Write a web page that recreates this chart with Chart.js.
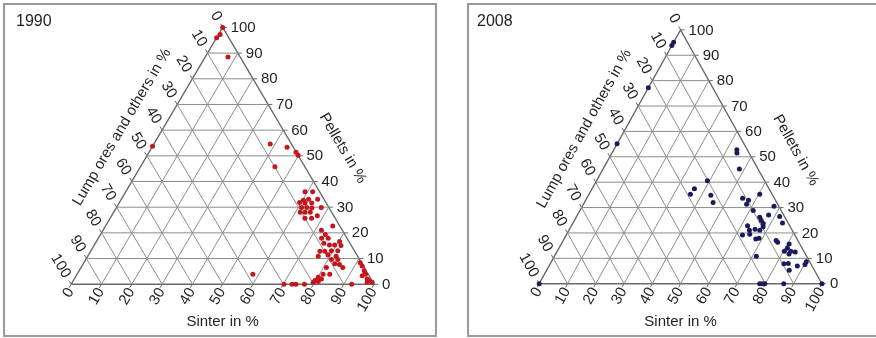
<!DOCTYPE html>
<html>
<head>
<meta charset="utf-8">
<script src="https://cdn.jsdelivr.net/npm/chart.js@4.4.1/dist/chart.umd.min.js"></script>
<style>
html,body{margin:0;padding:0;background:#fff;overflow:hidden;width:876px;height:338px;position:relative}
.frame{position:absolute;border:2px solid #9a9a9a;box-sizing:border-box}
#f1{left:3px;top:3px;width:434px;height:334px}
#f2{left:467px;top:3px;width:420px;height:334px}
canvas{position:absolute;top:0}
#c1{left:0}
#c2{left:438px}
</style>
</head>
<body>
<div class="frame" id="f1"></div>
<div class="frame" id="f2"></div>
<canvas id="c1" width="438" height="338"></canvas>
<canvas id="c2" width="438" height="338"></canvas>
<script>
// Ternary plots: Sinter / Pellets / Lump ores (lump = 100 - sinter - pellets)
const gridTicks = [0,10,20,30,40,50,60,70,80,90,100];
const years = ['1990','2008'];
const axisLump = 'Lump ores and others in %';
const axisPellets = 'Pellets in %';
const axisSinter = 'Sinter in %';

const sinter1990  = [0,0.5,0,7.5,0,38.4,44.6,48.5,49.8,44.4,
  59.2,61.7,60.3,61.8,64.8,59.5,61.4,63.6,61.1,62.8,64.6,67.6,61.6,63.2,64.9,67.9,64.3,66.5,
  75.0,72.1,74.2,73.7,75.9,80.3,75.4,77.6,79.3,81.5,75.7,77.3,79.4,81.5,76.1,79.0,82.0,81.1,83.2,83.0,84.7,81.0,86.4,81.2,83.4,80.2,81.6,79.8,81.0,
  91.2,92.5,94.1,95.2,94.4,96.7,97.6,98.9,97.3,
  58.0,70.2,72.9,74.2,77.0,79.5,92.6];
const pellets1990 = [100,97.3,96,88.5,53.7,54.6,53.3,51.4,50.2,45.7,
  36.0,36.0,32.7,33.1,33.1,31.8,31.6,31.6,29.9,29.9,29.7,29.9,28.0,28.0,28.0,26.7,25.7,25.7,
  22.7,21.0,19.4,17.9,17.9,16.6,16.0,15.3,15.3,15.1,12.8,12.8,13.0,13.0,10.9,11.5,10.9,9.6,9.6,8.0,7.7,6.5,6.5,3.9,3.9,2.7,2.0,1.4,1.1,
  8.4,7.1,5.2,3.9,3.3,2.0,1.4,0.8,0.8,
  3.9,0,0,0,0,0.8,0];

const sinter2008  = [0,0,0,0,0,43.5,44.2,48.2,39.2,36.2,35.9,43.3,45.5,
  55.1,57.6,57.7,60.4,67.8,61.3,67.6,64.9,66.1,67.4,68.0,71.8,74.1,
  62.3,62.3,63.8,64.7,65.6,67.5,67.8,68.8,75.3,76.2,
  80.6,80.8,80.3,82.6,84.3,82.5,71.4,82.6,84.1,85.8,87.8,90.1,90.2,
  78.0,78.9,79.8,86.5,100];
const pellets2008 = [95.1,93.8,77.2,55.1,0,52.8,51.5,45.2,40.6,37.4,35.2,34.8,32.0,
  33.7,32.9,31.3,35.2,30.5,28.8,27.1,26.2,24.9,23.7,22.4,26.5,23.9,
  22.8,19.2,21.1,19.5,21.5,21.1,17.6,17.9,17.0,16.3,
  15.6,14.0,12.8,12.8,12.5,11.7,10.8,7.9,8.0,5.3,7.0,8.7,7.6,
  0,0,0,0,0];

const GRID = '#8c8c8c', EDGE = '#6a6a6a', TEXT = '#231f20';
const FONT = '"Liberation Sans", Arial, sans-serif';

function tern(s,p){ return {x: s + p/2, y: p}; }

function buildDatasets(S, P, color){
    const ds = [];
    const seg = (pts, w, c) => ds.push({data: pts, showLine: true, borderColor: c, borderWidth: w, pointRadius: 0, order: 2, clip: false});
    const t = 1.4;
    gridTicks.forEach(v=>{
        if(v>0 && v<100){
            seg([tern(0,v), tern(100-v,v)], 1, GRID);           // pellets
            seg([tern(v,0), tern(v,100-v)], 1, GRID);           // sinter
            seg([tern(0,100-v), tern(100-v,0)], 1, GRID);       // lump
        }
        const r = tern(100-v,v);
        seg([r, {x:r.x+t, y:v}], 1, EDGE);
        const b = tern(v,0);
        seg([b, {x:b.x-t/2, y:-t}], 1, EDGE);
        const l = tern(0,100-v);
        seg([l, {x:l.x-t/2, y:l.y+t}], 1, EDGE);
    });
    seg([tern(0,0), tern(100,0), tern(0,100), tern(0,0)], 1.4, EDGE);
    ds.push({data: S.map((s,i)=>tern(s,P[i])), pointRadius: 2.5, pointBackgroundColor: color, pointBorderWidth: 0, showLine: false, order: 0, clip: false});
    return ds;
}

const ternLabels = {
    id: 'ternLabels',
    afterDatasetsDraw(chart, args, o){
        const {ctx, scales:{x,y}} = chart;
        const px = (s,p)=>{ const q=tern(s,p); return [x.getPixelForValue(q.x), y.getPixelForValue(q.y)]; };
        const [blx,bly] = px(0,0), [brx] = px(100,0), [apx,apy] = px(0,100);
        const ang = Math.atan2(bly-apy, apx-blx);
        ctx.save();
        ctx.fillStyle = TEXT;
        ctx.font = '15px ' + FONT;
        ctx.textBaseline = 'middle';
        gridTicks.forEach(v=>{
            let [X,Y] = px(100-v,v);
            ctx.textAlign = 'left'; ctx.fillText(String(v), X+8, Y+0.5);
            [X,Y] = px(v,0);
            ctx.save(); ctx.translate(X-0.5, Y+5); ctx.rotate(-ang); ctx.textAlign='right'; ctx.fillText(String(v),0,0); ctx.restore();
            [X,Y] = px(0,100-v);
            ctx.save(); ctx.translate(X-4.3, Y-7.5); ctx.rotate(ang); ctx.textAlign='right'; ctx.fillText(String(v),0,0); ctx.restore();
        });
        // axis titles
        ctx.textAlign = 'center';
        let L = Math.hypot(apx-blx, apy-bly);
        let ex = (apx-blx)/L, ey = (apy-bly)/L;
        let mx = (blx+apx)/2 + ex*12 + ey*36, my = (bly+apy)/2 + ey*12 - ex*36;
        ctx.save(); ctx.translate(mx,my); ctx.rotate(-ang); ctx.fillText(axisLump,0,0); ctx.restore();
        L = Math.hypot(brx-apx, bly-apy);
        ex = (brx-apx)/L; ey = (bly-apy)/L;
        mx = (brx+apx)/2 + ex*16 + ey*42; my = (bly+apy)/2 + ey*16 - ex*42;
        ctx.save(); ctx.translate(mx,my); ctx.rotate(ang); ctx.fillText(axisPellets,0,0); ctx.restore();
        ctx.fillText(axisSinter, (blx+brx)/2, bly+38);
        // year
        ctx.font = '16px ' + FONT;
        ctx.textAlign = 'left';
        ctx.fillText(o.year, o.titleX, 21.5);
        ctx.restore();
    }
};

function makeChart(id, S, P, color, year, titleX, xr, yr){
    return new Chart(document.getElementById(id), {
        type: 'scatter',
        data: {datasets: buildDatasets(S, P, color)},
        options: {
            responsive: false, animation: false, devicePixelRatio: 1, events: [],
            layout: {padding: 0},
            scales: {
                x: {type:'linear', min: xr[0], max: xr[1], display: false, bounds: 'data'},
                y: {type:'linear', min: yr[0], max: yr[1], display: false, bounds: 'data'}
            },
            plugins: {legend: {display:false}, tooltip: {enabled:false}, ternLabels: {year, titleX}}
        },
        plugins: [ternLabels]
    });
}

makeChart('c1', sinter1990, pellets1990, '#c4161c', years[0], 16, [-22.20, 119.77], [-19.39, 109.13]);
makeChart('c2', sinter2008, pellets2008, '#1c1a5e', years[1], 39, [-34.375, 117.71], [-19.81, 110.19]);
</script>
</body>
</html>
